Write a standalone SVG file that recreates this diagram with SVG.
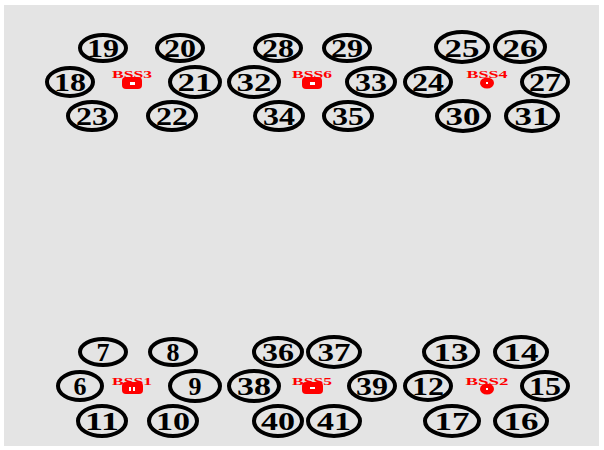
<svg xmlns="http://www.w3.org/2000/svg" width="604" height="450" viewBox="0 0 604 450">
<style>
.n ellipse{fill:none;stroke:#000;stroke-width:4}
.n text{font-family:"Liberation Serif","DejaVu Serif",serif;font-size:26px;font-weight:bold;fill:#000;text-anchor:middle}
.b text{font-family:"Liberation Serif","DejaVu Serif",serif;font-size:11px;font-weight:bold;fill:#f00;text-anchor:middle}
.b .ic{fill:#f00}
.b .mk{fill:#fff}
</style>
<rect x="0" y="0" width="604" height="450" fill="#fff"/>
<rect x="4" y="5" width="595" height="441" fill="#e4e4e4"/>
<g id="connectors"></g>
<g id="bss3" class="b"><text x="132" y="78" textLength="40" lengthAdjust="spacingAndGlyphs">BSS3</text><rect class="ic" x="122" y="77" width="20" height="12" rx="4"/><rect class="mk" x="130" y="82" width="5" height="3"/></g>
<g id="bss6" class="b"><text x="312" y="78" textLength="40" lengthAdjust="spacingAndGlyphs">BSS6</text><rect class="ic" x="302" y="77" width="20" height="12" rx="4"/><rect class="mk" x="310" y="82" width="5" height="3"/></g>
<g id="bss4" class="b"><text x="487" y="78" textLength="41" lengthAdjust="spacingAndGlyphs">BSS4</text><ellipse class="ic" cx="487" cy="83" rx="7" ry="5.5"/><rect class="mk" x="486" y="82" width="2" height="2"/></g>
<g id="bss1" class="b"><text x="132" y="385" textLength="40" lengthAdjust="spacingAndGlyphs">BSS1</text><rect class="ic" x="122" y="382" width="21" height="12" rx="4"/><rect class="mk" x="129" y="387" width="2" height="4"/><rect class="mk" x="133" y="387" width="2" height="4"/></g>
<g id="bss5" class="b"><text x="312" y="385" textLength="40" lengthAdjust="spacingAndGlyphs">BSS5</text><rect class="ic" x="302" y="382" width="21" height="12" rx="4"/><rect class="mk" x="310" y="387" width="5" height="2"/></g>
<g id="bss2" class="b"><text x="487" y="385" textLength="43" lengthAdjust="spacingAndGlyphs">BSS2</text><ellipse class="ic" cx="487" cy="389" rx="7" ry="5.5"/><rect class="mk" x="486" y="388" width="2" height="2"/></g>
<g id="n19" class="n"><ellipse cx="103" cy="48" rx="23" ry="13"/><text x="103" y="57" textLength="32" lengthAdjust="spacingAndGlyphs">19</text></g>
<g id="n20" class="n"><ellipse cx="180" cy="48" rx="23" ry="13"/><text x="180" y="57" textLength="32" lengthAdjust="spacingAndGlyphs">20</text></g>
<g id="n28" class="n"><ellipse cx="278" cy="48" rx="23" ry="13"/><text x="278" y="57" textLength="32" lengthAdjust="spacingAndGlyphs">28</text></g>
<g id="n29" class="n"><ellipse cx="347" cy="48" rx="23" ry="13"/><text x="347" y="57" textLength="32" lengthAdjust="spacingAndGlyphs">29</text></g>
<g id="n25" class="n"><ellipse cx="462" cy="47" rx="26" ry="15"/><text x="462" y="57" textLength="35" lengthAdjust="spacingAndGlyphs">25</text></g>
<g id="n26" class="n"><ellipse cx="520" cy="47" rx="25" ry="15"/><text x="520" y="57" textLength="35" lengthAdjust="spacingAndGlyphs">26</text></g>
<g id="n18" class="n"><ellipse cx="70" cy="82" rx="23" ry="14"/><text x="70" y="91" textLength="32" lengthAdjust="spacingAndGlyphs">18</text></g>
<g id="n21" class="n"><ellipse cx="195" cy="82" rx="25" ry="15"/><text x="195" y="91" textLength="35" lengthAdjust="spacingAndGlyphs">21</text></g>
<g id="n32" class="n"><ellipse cx="254" cy="82" rx="25" ry="15"/><text x="254" y="91" textLength="35" lengthAdjust="spacingAndGlyphs">32</text></g>
<g id="n33" class="n"><ellipse cx="371" cy="82" rx="24" ry="14"/><text x="371" y="91" textLength="32" lengthAdjust="spacingAndGlyphs">33</text></g>
<g id="n24" class="n"><ellipse cx="428" cy="82" rx="23" ry="14"/><text x="428" y="91" textLength="32" lengthAdjust="spacingAndGlyphs">24</text></g>
<g id="n27" class="n"><ellipse cx="545" cy="82" rx="23" ry="14"/><text x="545" y="91" textLength="32" lengthAdjust="spacingAndGlyphs">27</text></g>
<g id="n23" class="n"><ellipse cx="92" cy="116" rx="24" ry="14"/><text x="92" y="125" textLength="32" lengthAdjust="spacingAndGlyphs">23</text></g>
<g id="n22" class="n"><ellipse cx="172" cy="116" rx="24" ry="14"/><text x="172" y="125" textLength="32" lengthAdjust="spacingAndGlyphs">22</text></g>
<g id="n34" class="n"><ellipse cx="279" cy="116" rx="24" ry="14"/><text x="279" y="125" textLength="32" lengthAdjust="spacingAndGlyphs">34</text></g>
<g id="n35" class="n"><ellipse cx="348" cy="116" rx="24" ry="14"/><text x="348" y="125" textLength="32" lengthAdjust="spacingAndGlyphs">35</text></g>
<g id="n30" class="n"><ellipse cx="463" cy="116" rx="26" ry="15"/><text x="463" y="125" textLength="35" lengthAdjust="spacingAndGlyphs">30</text></g>
<g id="n31" class="n"><ellipse cx="532" cy="116" rx="26" ry="15"/><text x="532" y="125" textLength="35" lengthAdjust="spacingAndGlyphs">31</text></g>
<g id="n7" class="n"><ellipse cx="103" cy="352" rx="23" ry="13"/><text x="103" y="361">7</text></g>
<g id="n8" class="n"><ellipse cx="173" cy="352" rx="23" ry="13"/><text x="173" y="361">8</text></g>
<g id="n36" class="n"><ellipse cx="278" cy="352" rx="24" ry="14"/><text x="278" y="361" textLength="32" lengthAdjust="spacingAndGlyphs">36</text></g>
<g id="n37" class="n"><ellipse cx="334" cy="352" rx="26" ry="15"/><text x="334" y="361" textLength="33" lengthAdjust="spacingAndGlyphs">37</text></g>
<g id="n13" class="n"><ellipse cx="451" cy="352" rx="27" ry="15"/><text x="451" y="361" textLength="35" lengthAdjust="spacingAndGlyphs">13</text></g>
<g id="n14" class="n"><ellipse cx="521" cy="352" rx="26" ry="15"/><text x="521" y="361" textLength="35" lengthAdjust="spacingAndGlyphs">14</text></g>
<g id="n6" class="n"><ellipse cx="80" cy="386" rx="22" ry="14"/><text x="80" y="395">6</text></g>
<g id="n9" class="n"><ellipse cx="195" cy="386" rx="25" ry="15"/><text x="195" y="395">9</text></g>
<g id="n38" class="n"><ellipse cx="254" cy="386" rx="25" ry="15"/><text x="254" y="395" textLength="34" lengthAdjust="spacingAndGlyphs">38</text></g>
<g id="n39" class="n"><ellipse cx="372" cy="386" rx="23" ry="14"/><text x="372" y="395" textLength="32" lengthAdjust="spacingAndGlyphs">39</text></g>
<g id="n12" class="n"><ellipse cx="428" cy="386" rx="23" ry="14"/><text x="428" y="395" textLength="32" lengthAdjust="spacingAndGlyphs">12</text></g>
<g id="n15" class="n"><ellipse cx="545" cy="386" rx="23" ry="14"/><text x="545" y="395" textLength="32" lengthAdjust="spacingAndGlyphs">15</text></g>
<g id="n11" class="n"><ellipse cx="102" cy="421" rx="24" ry="15"/><text x="102" y="430" textLength="34" lengthAdjust="spacingAndGlyphs">11</text></g>
<g id="n10" class="n"><ellipse cx="173" cy="421" rx="24" ry="15"/><text x="173" y="430" textLength="34" lengthAdjust="spacingAndGlyphs">10</text></g>
<g id="n40" class="n"><ellipse cx="278" cy="421" rx="24" ry="15"/><text x="278" y="430" textLength="34" lengthAdjust="spacingAndGlyphs">40</text></g>
<g id="n41" class="n"><ellipse cx="334" cy="421" rx="26" ry="15"/><text x="334" y="430" textLength="34" lengthAdjust="spacingAndGlyphs">41</text></g>
<g id="n17" class="n"><ellipse cx="452" cy="421" rx="27" ry="15"/><text x="452" y="430" textLength="35" lengthAdjust="spacingAndGlyphs">17</text></g>
<g id="n16" class="n"><ellipse cx="521" cy="421" rx="26" ry="15"/><text x="521" y="430" textLength="35" lengthAdjust="spacingAndGlyphs">16</text></g>
</svg>
